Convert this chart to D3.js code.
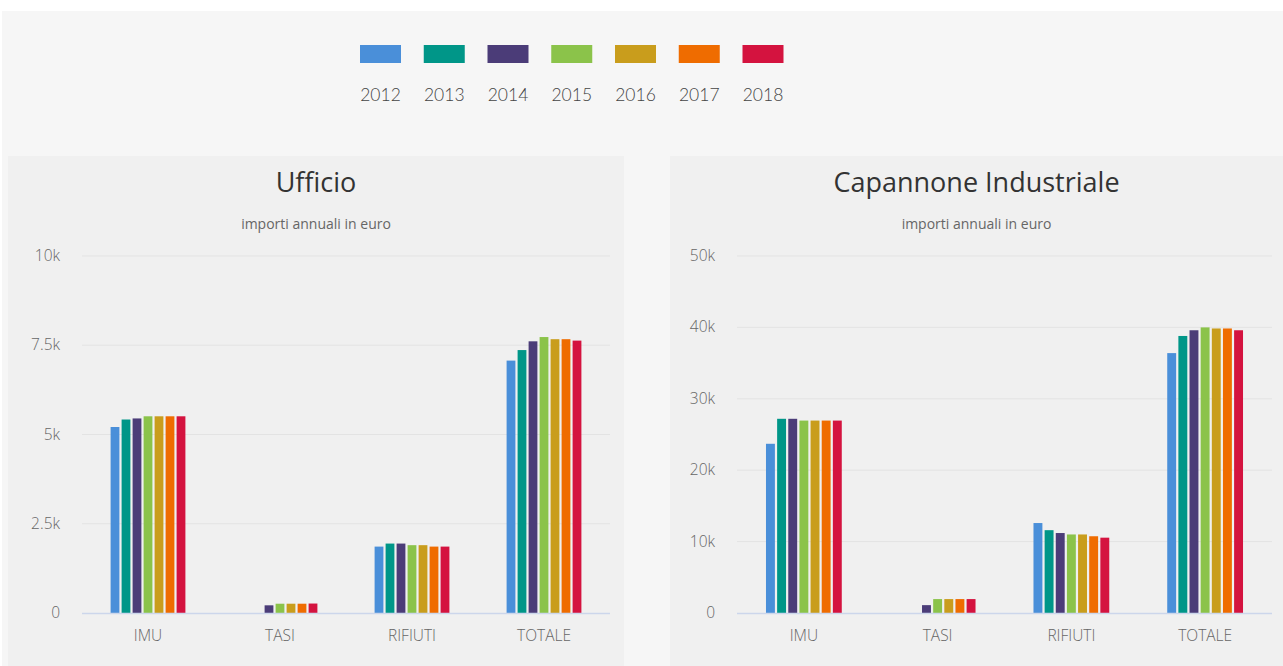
<!DOCTYPE html>
<html>
<head>
<meta charset="utf-8">
<script src="https://cdn.jsdelivr.net/npm/d3@7"></script>
<style>
  html, body { margin: 0; padding: 0; background: #ffffff; }
  svg { display: block; }
</style>
</head>
<body>
<svg id="chart" width="1283" height="666"></svg>
<script>
// ---- DATA ----
const years = ["2012", "2013", "2014", "2015", "2016", "2017", "2018"];
const colors = ["#4a8fd9", "#009688", "#4b3c78", "#8bc34a", "#c99d1c", "#ef6c00", "#d4133f"];
const categories = ["IMU", "TASI", "RIFIUTI", "TOTALE"];

const ufficioTitle = "Ufficio";
const ufficioIMU     = [5210, 5420, 5450, 5510, 5510, 5510, 5510];
const ufficioTASI    = [0, 0, 215, 260, 260, 260, 265];
const ufficioRIFIUTI = [1860, 1945, 1945, 1900, 1900, 1860, 1860];
const ufficioTOTALE  = [7070, 7365, 7610, 7730, 7670, 7670, 7630];
const ufficioTicks = [0, 2500, 5000, 7500, 10000];
const ufficioTickLabels = ["0", "2.5k", "5k", "7.5k", "10k"];

const capTitle = "Capannone Industriale";
const capIMU     = [23700, 27200, 27200, 26950, 26950, 26950, 26950];
const capTASI    = [0, 0, 1100, 1950, 1950, 1950, 1950];
const capRIFIUTI = [12600, 11600, 11200, 11000, 11000, 10750, 10550];
const capTOTALE  = [36400, 38800, 39600, 40000, 39850, 39850, 39600];
const capTicks = [0, 10000, 20000, 30000, 40000, 50000];
const capTickLabels = ["0", "10k", "20k", "30k", "40k", "50k"];

const subtitle = "importi annuali in euro";

// ---- DRAW ----
const svg = d3.select("#chart");

// page background
svg.append("rect").attr("x", 2).attr("y", 11).attr("width", 1281).attr("height", 655).attr("fill", "#f6f6f6");

// legend
const legendX = d3.scalePoint().domain(years).range([380.5, 763]);
const lg = svg.append("g");
years.forEach((y, i) => {
  lg.append("rect")
    .attr("x", legendX(y) - 20.5).attr("y", 45)
    .attr("width", 41).attr("height", 18)
    .attr("fill", colors[i]);
  lg.append("text")
    .attr("x", legendX(y)).attr("y", 101)
    .attr("text-anchor", "middle")
    .attr("font-family", "Lato, sans-serif")
    .attr("font-weight", 300)
    .attr("font-size", 17.5)
    .attr("fill", "#444")
    .text(y);
});

function drawPanel(opts) {
  const g = svg.append("g");
  g.append("rect")
    .attr("x", opts.px).attr("y", 156)
    .attr("width", opts.pw).attr("height", 510)
    .attr("fill", "#f0f0f0");

  const cx = opts.px + opts.pw / 2;
  g.append("text")
    .attr("x", cx).attr("y", 192)
    .attr("text-anchor", "middle")
    .attr("font-family", "'Open Sans', sans-serif")
    .attr("font-size", 27)
    .attr("fill", "#333")
    .text(opts.title);
  g.append("text")
    .attr("x", cx).attr("y", 229)
    .attr("text-anchor", "middle")
    .attr("font-family", "'Open Sans', sans-serif")
    .attr("font-size", 14)
    .attr("fill", "#666")
    .text(subtitle);

  const y = d3.scaleLinear().domain([0, opts.max]).range([613, 256]);
  const slot = (opts.right - opts.left) / categories.length;
  // Highcharts-like grouping: group width = 60% of category slot
  const x1 = d3.scaleBand().domain(years).range([0, slot * 0.6]).padding(0.2);

  // grid
  g.selectAll(".grid").data(opts.ticks.slice(1)).join("line")
    .attr("x1", opts.left).attr("x2", opts.right)
    .attr("y1", d => y(d)).attr("y2", d => y(d))
    .attr("stroke", "#e3e3e3").attr("stroke-width", 1);

  // y labels
  g.selectAll(".yl").data(opts.ticks).join("text")
    .attr("x", opts.left - 22).attr("y", d => y(d) + 5)
    .attr("text-anchor", "end")
    .attr("font-family", "'Open Sans', sans-serif")
    .attr("font-weight", 300)
    .attr("font-size", 15.5)
    .attr("fill", "#666")
    .text((d, i) => opts.tickLabels[i]);

  // bars
  const catStart = ci => opts.left + ci * slot + slot * 0.2;
  categories.forEach((c, ci) => {
    const vals = opts.series[ci];
    years.forEach((yr, yi) => {
      const v = vals[yi];
      if (v <= 0) return;
      g.append("rect")
        .attr("x", catStart(ci) + x1(yr))
        .attr("y", y(v))
        .attr("width", x1.bandwidth())
        .attr("height", y(0) - y(v))
        .attr("fill", colors[yi]);
    });
    g.append("text")
      .attr("x", opts.left + ci * slot + slot / 2).attr("y", 641)
      .attr("text-anchor", "middle")
      .attr("font-family", "'Open Sans', sans-serif")
      .attr("font-weight", 300)
      .attr("font-size", 15.5)
      .attr("fill", "#666")
      .text(c);
  });

  // x axis line
  g.append("line")
    .attr("x1", opts.left).attr("x2", opts.right)
    .attr("y1", y(0) + 0.5).attr("y2", y(0) + 0.5)
    .attr("stroke", "#ccd6eb").attr("stroke-width", 1.5);
}

drawPanel({
  px: 8, pw: 616, title: ufficioTitle, max: 10000,
  left: 82, right: 610,
  ticks: ufficioTicks, tickLabels: ufficioTickLabels,
  series: [ufficioIMU, ufficioTASI, ufficioRIFIUTI, ufficioTOTALE]
});
drawPanel({
  px: 670, pw: 613, title: capTitle, max: 50000,
  left: 737, right: 1272,
  ticks: capTicks, tickLabels: capTickLabels,
  series: [capIMU, capTASI, capRIFIUTI, capTOTALE]
});
</script>
</body>
</html>
